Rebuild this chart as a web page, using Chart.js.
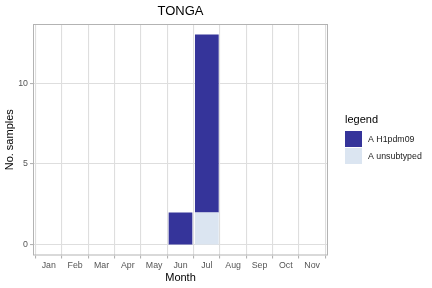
<!DOCTYPE html>
<html>
<head>
<meta charset="utf-8">
<script src="https://cdn.jsdelivr.net/npm/chart.js@4"></script>
<style>
  html, body { margin: 0; padding: 0; background: #fff; }
  #wrap { width: 432px; height: 288px; }
</style>
</head>
<body>
<div id="wrap"><canvas id="chart" width="432" height="288"></canvas></div>
<script>
const months = ['Jan', 'Feb', 'Mar', 'Apr', 'May', 'Jun', 'Jul', 'Aug', 'Sep', 'Oct', 'Nov']
const h1pdm09 = [0, 0, 0, 0, 0, 2, 11, 0, 0, 0, 0]
const unsubtyped = [0, 0, 0, 0, 0, 0, 2, 0, 0, 0, 0]
const yTicks = [0, 5, 10]

const FONT = "'Liberation Sans', Arial, sans-serif"
const DARK = '#35349a'
const LIGHT = '#dbe5f1'

const toPoints = arr => arr.map((v, i) => ({ x: i, y: v }))

// title over the panel, full panel border, legend on the right
const extras = {
  id: 'extras',
  afterDraw(chart) {
    const { ctx, chartArea: a } = chart
    ctx.save()
    ctx.strokeStyle = '#b3b3b3'
    ctx.lineWidth = 1
    ctx.strokeRect(a.left + 0.5, a.top + 0.5, a.right - a.left - 1, a.bottom - a.top - 1)

    ctx.fillStyle = '#000'
    ctx.textBaseline = 'middle'
    ctx.textAlign = 'center'
    ctx.font = '13px ' + FONT
    ctx.fillText('TONGA', (a.left + a.right) / 2, 11)

    ctx.textAlign = 'left'
    ctx.font = '11px ' + FONT
    ctx.fillText('legend', 345, 120)
    const items = [['A H1pdm09', DARK], ['A unsubtyped', LIGHT]]
    ctx.font = '8.8px ' + FONT
    items.forEach(([label, col], i) => {
      const y = 131 + i * 17
      ctx.fillStyle = col
      ctx.fillRect(345, y, 17, 16)
      ctx.fillStyle = '#1a1a1a'
      ctx.fillText(label, 368, y + 8.5)
    })
    ctx.restore()
  }
}

new Chart(document.getElementById('chart'), {
  type: 'bar',
  data: {
    datasets: [
      { label: 'A unsubtyped', data: toPoints(unsubtyped), backgroundColor: LIGHT },
      { label: 'A H1pdm09', data: toPoints(h1pdm09), backgroundColor: DARK }
    ]
  },
  options: {
    responsive: false,
    animation: false,
    layout: { padding: { left: 0, right: 104, top: 24, bottom: 0 } },
    datasets: { bar: { barPercentage: 0.9, categoryPercentage: 1, borderWidth: 0 } },
    plugins: {
      legend: { display: false },
      tooltip: { enabled: false },
      title: { display: false }
    },
    scales: {
      x: {
        type: 'linear',
        stacked: true,
        min: -0.6,
        max: 10.6,
        offset: false,
        afterBuildTicks: s => { s.ticks = months.map((_, i) => ({ value: i })) },
        afterFit: s => { s.height = 32.5 },
        ticks: {
          callback: v => months[v],
          color: '#555',
          font: { family: FONT, size: 8.8 },
          padding: 2,
          maxRotation: 0,
          autoSkip: false
        },
        grid: { color: '#dedede', lineWidth: 1.1, tickColor: '#b3b3b3', tickLength: 3 },
        border: { display: false },
        title: {
          display: true,
          text: 'Month',
          color: '#000',
          font: { family: FONT, size: 11 },
          padding: { top: 0, bottom: 3.8 }
        }
      },
      y: {
        stacked: true,
        min: -0.65,
        max: 13.65,
        afterBuildTicks: s => { s.ticks = yTicks.map(v => ({ value: v })) },
        afterFit: s => { s.width = 33 },
        ticks: {
          color: '#555',
          font: { family: FONT, size: 8.8 },
          padding: 2
        },
        grid: { color: '#dedede', lineWidth: 1.1, tickColor: '#b3b3b3', tickLength: 3 },
        border: { display: false },
        title: {
          display: true,
          text: 'No. samples',
          color: '#000',
          font: { family: FONT, size: 11 },
          padding: { top: 3.4, bottom: 0 }
        }
      }
    }
  },
  plugins: [extras]
})
</script>
</body>
</html>
